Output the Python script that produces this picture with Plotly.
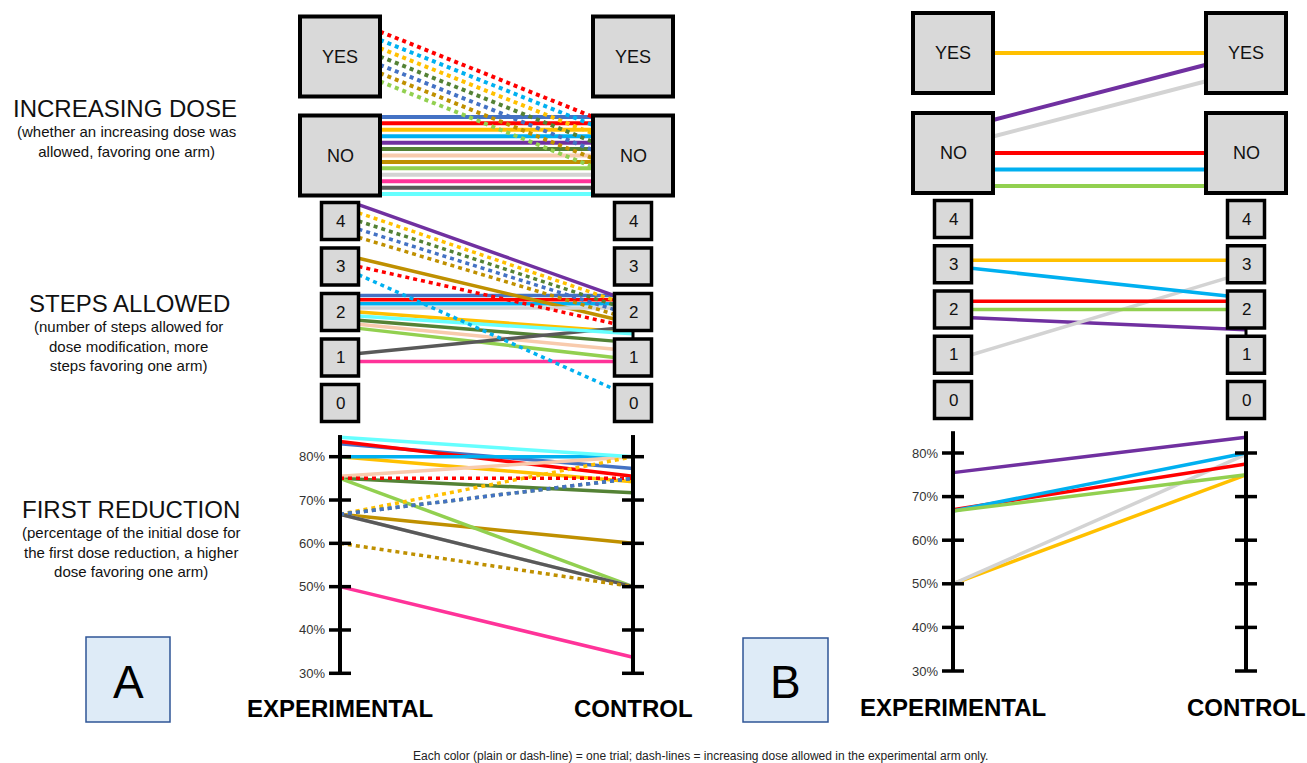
import numpy as np
import plotly.graph_objects as go

# ---------------------------------------------------------------- data
# Panel A : 20 trials (13 plain lines, 7 dash-lines)
A_COLORS = ["#4472C4", "#FF0000", "#FFC000", "#00B0F0", "#7030A0", "#548235", "#F8CBAD",
            "#BF9000", "#92D050", "#D3D3D3", "#FF3399", "#595959", "#66FFFF",
            "#FF0000", "#00B0F0", "#FFC000", "#548235", "#4472C4", "#BF9000", "#92D050"]
A_DASHED = [False] * 13 + [True] * 7
A_INC_EXP = ["NO"] * 13 + ["YES"] * 7
A_INC_CTL = ["NO"] * 20
A_STEPS_EXP = [2, 2, 2, 2, 4, 2, 2, 3, 2, 2, 1, 1, 2, 3, 3, 4, 4, 4, 4, None]
A_STEPS_CTL = [2, 2, 1.5, 2, 2, 1, 1, 2, 1, 2, 1, 2, 1.5, 2, 0, 2, 2, 2, 2, None]
A_RED_EXP = [83, 83.5, 80, 80, None, 75, 75.5, 66.7, 75, 66.7, 50, 66.7, 84.5,
             75, None, 66.7, 66.7, 66.7, 60, None]
A_RED_CTL = [77.3, 75.5, 74.2, 80, None, 71.7, 80, 60, 50, 50, 33.7, 50, 80,
             75, None, 80, 75, 75, 50, None]

# Panel B : 6 trials
B_COLORS = ["#FFC000", "#7030A0", "#D3D3D3", "#FF0000", "#00B0F0", "#92D050"]
B_DASHED = [False] * 6
B_INC_EXP = ["YES", "NO", "NO", "NO", "NO", "NO"]
B_INC_CTL = ["YES", "YES", "YES", "NO", "NO", "NO"]
B_STEPS_EXP = [3, 2, 1, 2, 3, 2]
B_STEPS_CTL = [3, 1.5, 3, 2, 2, 2]
B_RED_EXP = [50, 75.5, 50, 67, 66.7, 66.7]
B_RED_CTL = [75, 83.6, 79.7, 77.5, 80, 75]

DOSE_LEVELS = ["NO", "YES"]
STEP_LEVELS = [0, 1, 2, 3, 4]
RED_TICKS = [30, 40, 50, 60, 70, 80]
ARMS = ["EXPERIMENTAL", "CONTROL"]

SECTION_TITLES = ["INCREASING DOSE", "STEPS ALLOWED", "FIRST REDUCTION"]
SECTION_NOTES = ["(whether an increasing dose was<br>allowed, favoring one arm)",
                 "(number of steps allowed for<br>dose modification, more<br>steps favoring one arm)",
                 "(percentage of the initial dose for<br>the first dose reduction, a higher<br>dose favoring one arm)"]
FOOTER = ("Each color (plain or dash-line) = one trial; dash-lines = increasing dose "
          "allowed in the experimental arm only.")

# ---------------------------------------------------------------- layout constants
W, H = 1307, 763
FONT = "Liberation Sans, Arial, Helvetica, sans-serif"
BOX_FILL = "#D9D9D9"
GEOM = {
    "A": dict(xpix=(340, 633), xdom=(0, 700), inc_pix=(155.5, 56.5), step_pix=(403, 221),
              red_pix=(673.3, 456.7), inc_gap=0.084, axes=("x", "y", "y2", "y3"),
              letter_box=(86, 637, 170, 722), arm_y=708),
    "B": dict(xpix=(953, 1246), xdom=(700, 1307), inc_pix=(153, 53), step_pix=(400, 219),
              red_pix=(671, 453), inc_gap=0.165, axes=("x2", "y4", "y5", "y6"),
              letter_box=(743, 638, 828, 722), arm_y=707),
}
INC_BOX_PX, STEP_BOX_PX = 40, 18.5
INC_HMAX, INC_SHIFT = 0.39, 0.2
STEP_GAP, STEP_HMAX, STEP_SHIFT = 0.18, 0.36, 0.3
RED_TOP = 85
TICK_PX = 11


def spread(n, gap, hmax, center=0.0):
    if n == 0:
        return []
    h = min(hmax, gap * (n - 1) / 2)
    c = float(np.clip(center, -(hmax - h), hmax - h))
    return list(np.linspace(c + h, c - h, n)) if n > 1 else [c]


def place(ev, cv, gap, hmax, shift):
    """Offsets of line ends inside each box (parallel-sets style)."""
    idx = [i for i in range(len(ev)) if ev[i] is not None and cv[i] is not None]
    eo, co = {}, {}
    for v in sorted({ev[i] for i in idx}):
        grp = sorted([i for i in idx if ev[i] == v], key=lambda i: (-cv[i], i))
        integer = float(v).is_integer()
        for i, o in zip(grp, spread(len(grp), gap if integer else 0.03, hmax if integer else 0.05)):
            eo[i] = o
    for i in idx:
        if ev[i] == cv[i]:
            co[i] = eo[i]
    for v in sorted({cv[i] for i in idx}):
        grp = sorted([i for i in idx if cv[i] == v and ev[i] != cv[i]], key=lambda i: (-ev[i], -eo[i]))
        if not grp:
            continue
        direction = float(np.mean([np.sign(ev[i] - v) for i in grp]))
        integer = float(v).is_integer()
        offs = spread(len(grp), gap if integer else 0.03, hmax if integer else 0.05, shift * direction)
        for i, o in zip(grp, offs):
            co[i] = o
    return eo, co


def yrange(va, pa, vb, pb):
    s = (vb - va) / (pb - pa)
    return [va + (H - pa) * s, va + (0 - pa) * s]


fig = go.Figure()
layout_axes = {}
shapes, annotations = [], []


def text(x, y, txt, size, xref="paper", yref="paper", color="#111", **kw):
    d = dict(x=x, y=y, xref=xref, yref=yref, text=txt, showarrow=False,
             xanchor="center", yanchor="middle", font=dict(family=FONT, size=size, color=color))
    d.update(kw)
    annotations.append(d)


def line_trace(x, y, color, dashed, width, xa, ya):
    fig.add_trace(go.Scatter(x=x, y=y, mode="lines", xaxis=xa, yaxis=ya,
                             line=dict(color=color, width=width, dash="4px,4px" if dashed else "solid"),
                             hoverinfo="skip", showlegend=False))


def edge_x(v, bw, side):
    # lines start/stop at the box edge; half-levels stop on the connector (box centre line)
    if not float(v).is_integer():
        return float(side)
    return bw if side == 0 else 1 - bw


def build_panel(key, colors, dashed, inc_e, inc_c, st_e, st_c, rd_e, rd_c):
    g = GEOM[key]
    xa, ya_inc, ya_st, ya_rd = g["axes"]
    x0p, x1p = g["xpix"]
    ux = x1p - x0p
    xr = [(g["xdom"][0] - x0p) / ux, (g["xdom"][1] - x0p) / ux]
    xname = "xaxis" if xa == "x" else "xaxis" + xa[1:]
    layout_axes[xname] = dict(domain=[g["xdom"][0] / W, g["xdom"][1] / W], range=xr, visible=False,
                              fixedrange=True, anchor=ya_inc)
    base = ya_inc
    for ya, rng in [(ya_inc, yrange(0, g["inc_pix"][0], 1, g["inc_pix"][1])),
                    (ya_st, yrange(0, g["step_pix"][0], 4, g["step_pix"][1])),
                    (ya_rd, yrange(30, g["red_pix"][0], 80, g["red_pix"][1]))]:
        name = "yaxis" if ya == "y" else "yaxis" + ya[1:]
        d = dict(range=rng, visible=False, fixedrange=True, anchor=xa)
        if ya == base:
            d["domain"] = [0, 1]
        else:
            d["overlaying"] = base
        layout_axes[name] = d

    # ---------- increasing dose
    uy_inc = abs(g["inc_pix"][0] - g["inc_pix"][1])
    bw, bh = INC_BOX_PX / ux, INC_BOX_PX / uy_inc
    ev = [DOSE_LEVELS.index(v) for v in inc_e]
    cv = [DOSE_LEVELS.index(v) for v in inc_c]
    eo, co = place(ev, cv, g["inc_gap"], INC_HMAX, INC_SHIFT)
    order = [i for i in range(len(ev)) if not dashed[i]] + [i for i in range(len(ev)) if dashed[i]]
    for i in order:
        line_trace([bw, 1 - bw], [ev[i] + eo[i], cv[i] + co[i]], colors[i], dashed[i], 4, xa, ya_inc)
    for xv in (0, 1):
        for lv, lab in enumerate(DOSE_LEVELS):
            shapes.append(dict(type="rect", xref=xa, yref=ya_inc, x0=xv - bw, x1=xv + bw,
                               y0=lv - bh, y1=lv + bh, fillcolor=BOX_FILL,
                               line=dict(color="black", width=4), layer="above"))
            text(xv, lv, lab, 18, xref=xa, yref=ya_inc)

    # ---------- steps allowed
    uy_st = abs(g["step_pix"][0] - g["step_pix"][1]) / 4
    bw, bh = STEP_BOX_PX / ux, STEP_BOX_PX / uy_st
    idx = [i for i in range(len(st_e)) if st_e[i] is not None]
    eo, co = place(st_e, st_c, STEP_GAP, STEP_HMAX, STEP_SHIFT)
    order = [i for i in idx if not dashed[i]] + [i for i in idx if dashed[i]]
    for i in order:
        line_trace([edge_x(st_e[i], bw, 0), edge_x(st_c[i], bw, 1)],
                   [st_e[i] + eo[i], st_c[i] + co[i]], colors[i], dashed[i], 3.5, xa, ya_st)
    for xv, vals in ((0, st_e), (1, st_c)):
        for hv in sorted({v for v in vals if v is not None and not float(v).is_integer()}):
            shapes.append(dict(type="line", xref=xa, yref=ya_st, x0=xv, x1=xv,
                               y0=np.floor(hv) + bh, y1=np.ceil(hv) - bh,
                               line=dict(color="black", width=3), layer="above"))
        for lv in STEP_LEVELS:
            shapes.append(dict(type="rect", xref=xa, yref=ya_st, x0=xv - bw, x1=xv + bw,
                               y0=lv - bh, y1=lv + bh, fillcolor=BOX_FILL,
                               line=dict(color="black", width=3.5), layer="above"))
            text(xv, lv, str(lv), 17, xref=xa, yref=ya_st)

    # ---------- first reduction
    for i in range(len(rd_e)):
        if rd_e[i] is None:
            continue
        line_trace([0, 1], [rd_e[i], rd_c[i]], colors[i], dashed[i], 3.5, xa, ya_rd)
    tw = TICK_PX / ux
    for xv in (0, 1):
        shapes.append(dict(type="line", xref=xa, yref=ya_rd, x0=xv, x1=xv, y0=RED_TICKS[0], y1=RED_TOP,
                           line=dict(color="black", width=4), layer="above"))
        for t in RED_TICKS:
            shapes.append(dict(type="line", xref=xa, yref=ya_rd, x0=xv - tw, x1=xv + tw, y0=t, y1=t,
                               line=dict(color="black", width=3.5), layer="above"))
    for t in RED_TICKS:
        text(0, t, f"{t}%", 13, xref=xa, yref=ya_rd, color="#333", xanchor="right", xshift=-13)

    # ---------- arm labels + panel letter
    for xv, arm in zip((0, 1), ARMS):
        text(xv, 1 - g["arm_y"] / H, f"<b>{arm}</b>", 24, xref=xa, color="black")
    lx0, ly0, lx1, ly1 = g["letter_box"]
    shapes.append(dict(type="rect", xref="paper", yref="paper", x0=lx0 / W, x1=lx1 / W,
                       y0=1 - ly1 / H, y1=1 - ly0 / H, fillcolor="#DEEBF7",
                       line=dict(color="#2F5597", width=1.5), layer="above"))
    text((lx0 + lx1) / 2 / W, 1 - ((ly0 + ly1) / 2 + 2) / H, key, 46, color="black")


build_panel("A", A_COLORS, A_DASHED, A_INC_EXP, A_INC_CTL, A_STEPS_EXP, A_STEPS_CTL, A_RED_EXP, A_RED_CTL)
build_panel("B", B_COLORS, B_DASHED, B_INC_EXP, B_INC_CTL, B_STEPS_EXP, B_STEPS_CTL, B_RED_EXP, B_RED_CTL)

# ---------- section titles on the left
title_pos = [(125, 108), (129, 303), (131, 510)]
note_pos = [(126, 141), (128, 345.5), (131, 551.5)]
for (tx, ty), (nx, ny), t, n in zip(title_pos, note_pos, SECTION_TITLES, SECTION_NOTES):
    text(tx / W, 1 - ty / H, t, 24)
    text(nx / W, 1 - ny / H, n, 15, align="center")

text(700 / W, 1 - 756 / H, FOOTER, 12, color="#222")

fig.update_layout(width=W, height=H, margin=dict(l=0, r=0, t=0, b=0),
                  paper_bgcolor="white", plot_bgcolor="rgba(0,0,0,0)",
                  shapes=shapes, annotations=annotations, showlegend=False, **layout_axes)

fig.write_html("out.html", config={"displayModeBar": False},
               post_script="document.body.style.margin='0';")
